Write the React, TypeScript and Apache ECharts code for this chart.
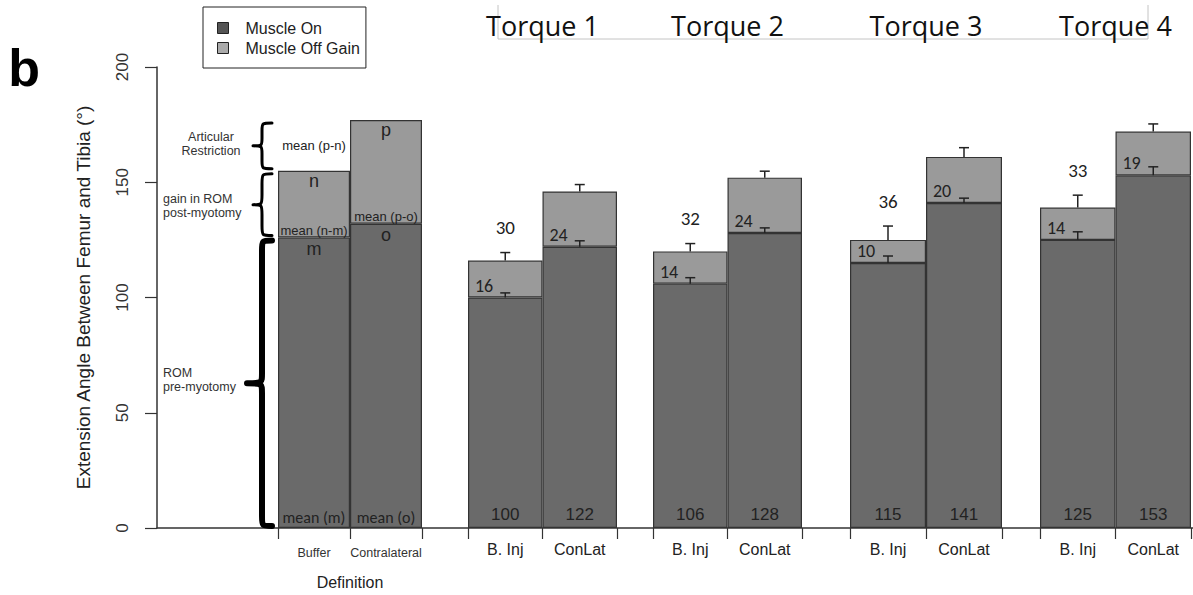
import React, { useEffect, useRef } from 'react';
import * as echarts from 'echarts';

// ---- data ----
const defCategories = ['Buffer', 'Contralateral'];
const defMuscleOn = [126, 132];
const defOffGain = [29, 45];
const defOnLetters = ['m', 'o'];
const defGainLetters = ['n', 'p'];
const defOnMeans = ['mean (m)', 'mean (o)'];
const defGainMeans = ['mean (n-m)', 'mean (p-o)'];

const torqueTitles = ['Torque 1', 'Torque 2', 'Torque 3', 'Torque 4'];
const torqueCategories = ['B. Inj', 'ConLat'];
const onBInj = [100, 106, 115, 125];
const onConLat = [122, 128, 141, 153];
const gainBInj = [16, 14, 10, 14];
const gainConLat = [24, 24, 20, 19];
const errOnBInj = [2, 2.6, 3, 3.5];
const errOnConLat = [2.6, 2.2, 2.1, 3.7];
const errGainBInj = [3.5, 3.4, 6, 5.4];
const errGainConLat = [3, 2.8, 4, 3.3];
const restriction = [30, 32, 36, 33];

const braceLabels = ['ROM\npre-myotomy', 'gain in ROM\npost-myotomy', 'Articular\nRestriction'];

// ---- layout ----
const W = 1193;
const H = 595;
const GRID_TOP = 67;
const GRID_H = 461;
const AXIS_LEFT = 157;
const groupLefts = [278, 468, 653, 850, 1040];
const groupWidths = [144, 149, 149, 152, 151];

const DARK = '#6a6a6a';
const LIGHT = '#9a9a9a';
const EDGE = '#333';
const SANS = '"Liberation Sans", Arial, sans-serif';
const HUMAN = 'Carlito, Calibri, Lato, sans-serif';
const TITLE = '"Open Sans", Carlito, Calibri, sans-serif';

function bracePath(xt: number, xa: number, xe: number, y0: number, y1: number) {
  const ym = (y0 + y1) / 2;
  const r = Math.min(10, (y1 - y0) / 6);
  return `M${xe},${y0} C${xa},${y0} ${xa},${y0} ${xa},${y0 + r} L${xa},${ym - r} C${xa},${ym} ${xa},${ym} ${xt},${ym} C${xa},${ym} ${xa},${ym} ${xa},${ym + r} L${xa},${y1 - r} C${xa},${y1} ${xa},${y1} ${xe},${y1}`;
}

function txt(text: string, x: number, y: number, size: number, family: string, align = 'center') {
  return {
    type: 'text',
    x,
    y,
    style: { text, fill: '#222', fontSize: size, fontFamily: family, align, verticalAlign: 'middle' } as any,
  };
}

export default function App() {
  const ref = useRef<HTMLDivElement>(null);

  useEffect(() => {
    if (!ref.current) return;
    const chart = echarts.init(ref.current, undefined, { renderer: 'svg' });

    const grids: any[] = [{ left: AXIS_LEFT, top: GRID_TOP, width: W - AXIS_LEFT, height: GRID_H }];
    groupLefts.forEach((l, i) => grids.push({ left: l, top: GRID_TOP, width: groupWidths[i], height: GRID_H }));

    const xAxes: any[] = [
      {
        gridIndex: 0, type: 'value', min: 0, max: 1,
        axisLine: { show: true, onZero: false, lineStyle: { color: EDGE, width: 1.5 } },
        axisTick: { show: false }, axisLabel: { show: false }, splitLine: { show: false },
      },
      {
        gridIndex: 1, type: 'category', data: defCategories,
        axisLine: { show: false },
        axisTick: { show: true, length: 11, lineStyle: { color: EDGE, width: 1.2 } },
        axisLabel: { interval: 0, fontSize: 12.5, color: '#333', margin: 18, fontFamily: SANS },
        name: 'Definition', nameLocation: 'middle', nameGap: 46,
        nameTextStyle: { fontSize: 16, color: '#222', fontFamily: SANS },
      },
    ];
    torqueTitles.forEach((_, g) => {
      xAxes.push({
        gridIndex: g + 2, type: 'category', data: torqueCategories,
        axisLine: { show: false },
        axisTick: { show: true, length: 11, lineStyle: { color: EDGE, width: 1.2 } },
        axisLabel: { interval: 0, fontSize: 16, color: '#222', margin: 13, fontFamily: SANS },
      });
    });

    const yAxes: any[] = [
      {
        gridIndex: 0, type: 'value', min: 0, max: 200, interval: 50,
        axisLine: { show: true, onZero: false, lineStyle: { color: EDGE, width: 1.5 } },
        axisTick: { show: true, length: 12, lineStyle: { color: EDGE, width: 1.2 } },
        axisLabel: { rotate: 90, fontSize: 17, color: '#333', margin: 26, fontFamily: SANS },
        splitLine: { show: false },
        name: 'Extension Angle Between Femur and Tibia (°)',
        nameLocation: 'middle', nameRotate: 90, nameGap: 64,
        nameTextStyle: { fontSize: 19, color: '#222', fontFamily: SANS },
      },
    ];
    groupLefts.forEach((_, i) => {
      yAxes.push({ gridIndex: i + 1, type: 'value', min: 0, max: 200, interval: 50, show: false });
    });

    const barCommon = { type: 'bar', barWidth: '100%', z: 2 };
    const series: any[] = [];

    // Definition bars
    series.push({
      ...barCommon, name: 'Muscle On', xAxisIndex: 1, yAxisIndex: 1, stack: 'def',
      data: defMuscleOn, itemStyle: { color: DARK, borderColor: EDGE, borderWidth: 1.2 },
    });
    series.push({
      ...barCommon, name: 'Muscle Off Gain', xAxisIndex: 1, yAxisIndex: 1, stack: 'def',
      data: defOffGain, itemStyle: { color: LIGHT, borderColor: EDGE, borderWidth: 1.2 },
    });

    const defTotals = defMuscleOn.map((v, i) => v + defOffGain[i]);

    // Definition annotations (letters and means)
    series.push({
      type: 'custom', name: 'defLabels', xAxisIndex: 1, yAxisIndex: 1, z: 6, silent: true,
      data: defCategories.map((_, i) => [i, defMuscleOn[i], defOffGain[i]]),
      renderItem: (params: any, api: any) => {
        const i = params.dataIndex;
        const cat = api.value(0);
        const on = api.value(1);
        const gain = api.value(2);
        const [cx, y0] = api.coord([cat, 0]);
        const yOn = api.coord([cat, on])[1];
        const yTop = api.coord([cat, on + gain])[1];
        const children: any[] = [
          txt(defOnMeans[i], cx, y0 - 11, 16, HUMAN),
          txt(defOnLetters[i], cx, yOn + 11, 18, SANS),
          txt(defGainMeans[i], cx, yOn - 7, 13, SANS),
          txt(defGainLetters[i], cx, yTop + 10, 18, SANS),
        ];
        if (i === 0) {
          const r = defTotals[1] - defTotals[0];
          const yR = api.coord([cat, defTotals[0] + r / 2])[1];
          children.push(txt('mean (p-n)', cx, yR, 13, SANS));
        }
        return { type: 'group', children };
      },
    });

    // Torque groups
    torqueTitles.forEach((_, g) => {
      const ax = g + 2;
      series.push({
        ...barCommon, name: 'Muscle On', xAxisIndex: ax, yAxisIndex: ax, stack: 't' + g,
        data: [onBInj[g], onConLat[g]],
        itemStyle: { color: DARK, borderColor: EDGE, borderWidth: 1.2 },
        label: {
          show: true, position: 'insideBottom', distance: 5, formatter: '{c}',
          fontSize: 17, fontFamily: SANS, color: '#222',
        },
      });
      series.push({
        ...barCommon, name: 'Muscle Off Gain', xAxisIndex: ax, yAxisIndex: ax, stack: 't' + g,
        data: [gainBInj[g], gainConLat[g]],
        itemStyle: { color: LIGHT, borderColor: EDGE, borderWidth: 1.2 },
        label: {
          show: true, position: 'insideBottomLeft', distance: 3, offset: [4, 0], formatter: '{c}',
          fontSize: 18, fontFamily: HUMAN, color: '#222',
        },
      });
      series.push({
        type: 'custom', name: 'err' + g, xAxisIndex: ax, yAxisIndex: ax, z: 5, silent: true,
        data: [
          [0, onBInj[g], errOnBInj[g]],
          [1, onConLat[g], errOnConLat[g]],
          [0, onBInj[g] + gainBInj[g], errGainBInj[g]],
          [1, onConLat[g] + gainConLat[g], errGainConLat[g]],
        ],
        renderItem: (params: any, api: any) => {
          const cat = api.value(0);
          const base = api.value(1);
          const err = api.value(2);
          const p0 = api.coord([cat, base]);
          const p1 = api.coord([cat, base + err]);
          const st = { stroke: '#222', lineWidth: 1.5 };
          const children: any[] = [
            { type: 'line', shape: { x1: p0[0], y1: p0[1], x2: p0[0], y2: p1[1] }, style: st },
            { type: 'line', shape: { x1: p0[0] - 5, y1: p1[1], x2: p0[0] + 5, y2: p1[1] }, style: st },
          ];
          if (params.dataIndex === 2) {
            children.push(txt(String(restriction[g]), p0[0], p1[1] - 25, 19, HUMAN));
          }
          return { type: 'group', children };
        },
      });
    });

    // Braces on the left of the definition bars
    const braceRows = [
      [0, defMuscleOn[0], 6],
      [defMuscleOn[0], defTotals[0], 3],
      [defTotals[0], defTotals[1], 3],
    ];
    series.push({
      type: 'custom', name: 'braces', xAxisIndex: 0, yAxisIndex: 0, z: 6, silent: true,
      data: braceRows,
      renderItem: (params: any, api: any) => {
        const i = params.dataIndex;
        const from = api.value(0);
        const to = api.value(1);
        const lw = api.value(2);
        const yBottom = api.coord([0, from])[1] - 2;
        const yTop = api.coord([0, to])[1] + 3;
        const L = groupLefts[0];
        const tip = lw > 4 ? L - 31 : L - 25;
        const d = bracePath(tip, L - 16, L - 6, yTop, yBottom);
        const ym = (yTop + yBottom) / 2;
        const label =
          i === 2
            ? txt(braceLabels[i], AXIS_LEFT + 54, ym - 2, 12.5, SANS, 'center')
            : txt(braceLabels[i], AXIS_LEFT + 6, i === 0 ? ym - 3 : ym + 1, 12.5, SANS, 'left');
        label.style.fill = '#333';
        label.style.lineHeight = 14;
        return {
          type: 'group',
          children: [
            {
              type: 'path',
              shape: { pathData: d },
              style: { fill: 'none', stroke: '#000', lineWidth: lw, lineCap: 'round', lineJoin: 'round' },
            },
            label,
          ],
        };
      },
    });

    const graphic: any[] = [
      {
        type: 'text', x: 24, y: 68,
        style: { text: 'b', fontSize: 52, fontWeight: 'bold', fontFamily: SANS, fill: '#000', align: 'center', verticalAlign: 'middle' },
      },
      {
        type: 'polyline',
        shape: { points: [[498, 5], [498, 39], [1148, 39], [1148, 5]] },
        style: { stroke: '#c4c4c4', lineWidth: 1, fill: 'none' },
      },
    ];
    torqueTitles.forEach((t, g) => {
      graphic.push({
        type: 'text',
        x: groupLefts[g + 1] + groupWidths[g + 1] / 2,
        y: 25,
        style: { text: t, fontSize: 27, fontFamily: TITLE, fill: '#111', align: 'center', verticalAlign: 'middle' },
      });
    });

    chart.setOption({
      animation: false,
      backgroundColor: '#fff',
      grid: grids,
      xAxis: xAxes,
      yAxis: yAxes,
      legend: {
        left: 203, top: 7, orient: 'vertical',
        itemWidth: 11, itemHeight: 11, itemGap: 4,
        borderColor: '#222', borderWidth: 1,
        padding: [13, 6, 12, 14],
        selectedMode: false,
        textStyle: { fontSize: 16, fontFamily: SANS, color: '#222', padding: [0, 0, 0, 12] },
        data: [
          { name: 'Muscle On', icon: 'rect', itemStyle: { color: '#555', borderColor: '#222', borderWidth: 1 } },
          { name: 'Muscle Off Gain', icon: 'rect', itemStyle: { color: '#aaa', borderColor: '#222', borderWidth: 1 } },
        ],
      },
      series,
      graphic,
    });

    return () => chart.dispose();
  }, []);

  return (
    <div
      ref={ref}
      style={{ position: 'fixed', left: 0, top: 0, width: W, height: H, background: '#fff' }}
    />
  );
}
